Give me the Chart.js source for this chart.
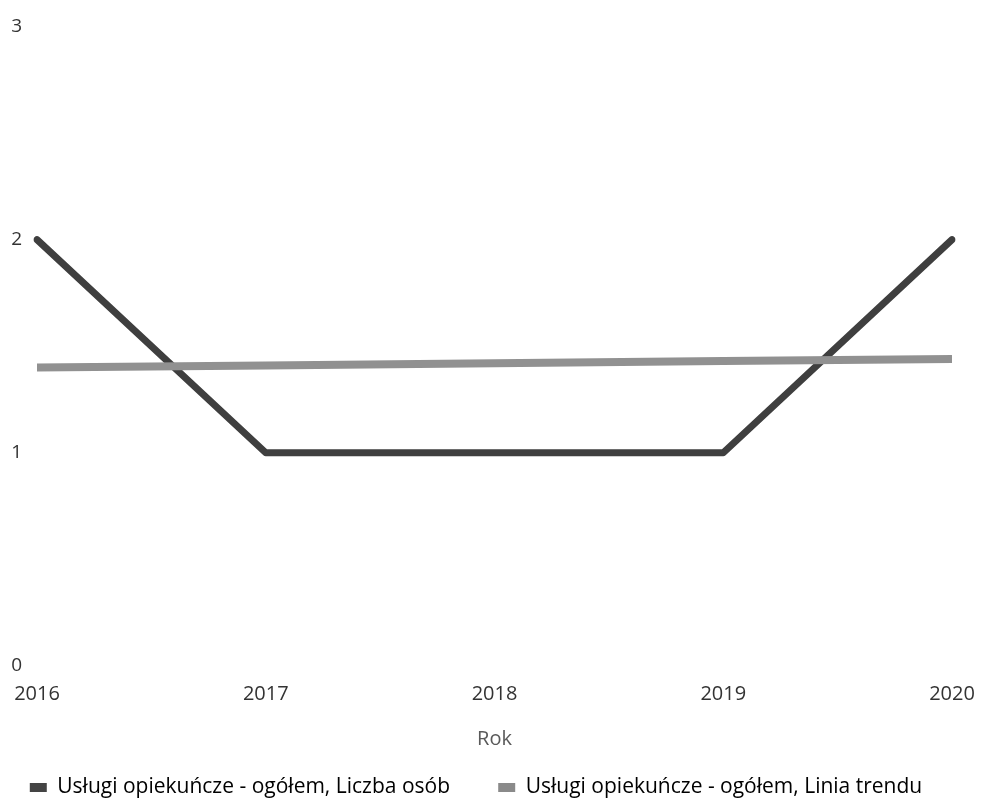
<!DOCTYPE html>
<html>
<head>
<meta charset="utf-8">
<script src="https://cdn.jsdelivr.net/npm/chart.js@4"></script>
<style>
  html, body { margin: 0; padding: 0; background: #fff; }
  #wrap { width: 983px; height: 800px; position: relative; }
</style>
</head>
<body>
<div id="wrap"><canvas id="myChart"></canvas></div>
<script>
// data
const years = ['2016', '2017', '2018', '2019', '2020'];
const liczbaOsob = [2, 1, 1, 1, 2];
const liniaTrendu = [1.40, 1.41, 1.42, 1.43, 1.44];
const yTicks = [0, 1, 2, 3];

const seriesName1 = 'Usługi opiekuńcze - ogółem, Liczba osób';
const seriesName2 = 'Usługi opiekuńcze - ogółem, Linia trendu';

const fontFamily = '"Open Sans", "Noto Sans", sans-serif';

const data = {
    labels: years,
    datasets: [{
        label: seriesName1,
        data: liczbaOsob,
        borderColor: '#3f3f3f',
        backgroundColor: '#444',
        borderWidth: 7,
        pointRadius: 0,
        borderCapStyle: 'round',
        borderJoinStyle: 'round',
        tension: 0,
        order: 2
    }, {
        label: seriesName2,
        data: liniaTrendu,
        borderColor: '#919191',
        backgroundColor: '#8a8a8a',
        borderWidth: 8,
        pointRadius: 0,
        tension: 0,
        order: 1
    }]
};

const config = {
    type: 'line',
    data: data,
    options: {
        responsive: true,
        maintainAspectRatio: false,
        animation: false,
        layout: { padding: { top: 12, right: 31, left: 0, bottom: -8 } },
        plugins: {
            tooltip: { enabled: false },
            legend: {
                position: 'bottom',
                align: 'center',
                labels: {
                    boxWidth: 17,
                    boxHeight: 9,
                    padding: 10,
                    color: '#3a3a3a',
                    font: { family: fontFamily, size: 21 },
                    sort: (a, b) => a.datasetIndex - b.datasetIndex,
                    generateLabels: (chart) => chart.data.datasets.map((ds, i) => ({
                        // trailing spaces keep the gap between the two items
                        text: i === 0 ? ds.label + '       ' : ds.label,
                        fillStyle: ds.backgroundColor,
                        strokeStyle: ds.backgroundColor,
                        lineWidth: 0,
                        hidden: false,
                        datasetIndex: i
                    }))
                }
            }
        },
        scales: {
            x: {
                offset: false,
                afterFit: (scale) => { scale.paddingLeft = 0; scale.paddingRight = 0; },
                grid: { display: false, drawTicks: false },
                border: { display: false },
                ticks: {
                    color: '#333',
                    padding: 16,
                    maxRotation: 0,
                    font: { family: fontFamily, size: 20 }
                },
                title: {
                    display: true,
                    text: 'Rok',
                    color: '#5a5a5a',
                    padding: { top: 5, bottom: 16 },
                    font: { family: fontFamily, size: 20 }
                }
            },
            y: {
                min: 0,
                max: 3,
                afterBuildTicks: (scale) => { scale.ticks = yTicks.map(v => ({ value: v })); },
                afterFit: (scale) => { scale.width = 37; },
                grid: { display: false, drawTicks: false },
                border: { display: false },
                ticks: {
                    color: '#333',
                    padding: 15,
                    font: { family: fontFamily, size: 19 }
                }
            }
        }
    }
};

const myChart = new Chart(document.getElementById('myChart'), config);
</script>
</body>
</html>
